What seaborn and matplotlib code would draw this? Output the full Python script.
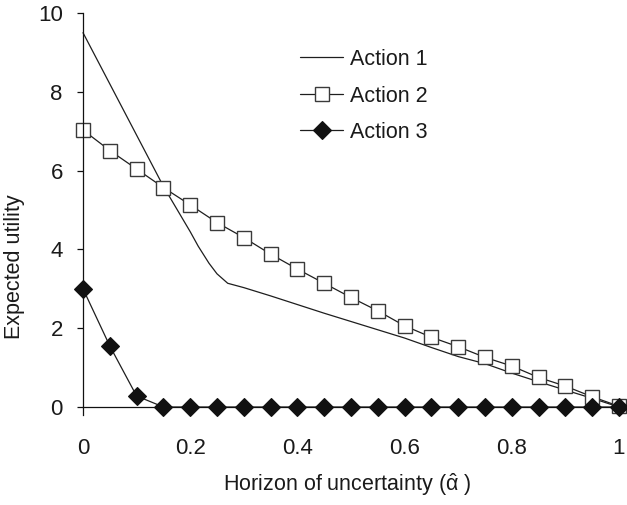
import matplotlib
matplotlib.use("Agg")
import matplotlib.pyplot as plt
import seaborn as sns
import pandas as pd

# Horizon of uncertainty grid for the marked series
alpha = [0.0, 0.05, 0.1, 0.15, 0.2, 0.25, 0.3, 0.35, 0.4, 0.45, 0.5,
         0.55, 0.6, 0.65, 0.7, 0.75, 0.8, 0.85, 0.9, 0.95, 1.0]

# Action 1 is drawn as a plain curve on a slightly denser grid
alpha_a1 = [0.0, 0.05, 0.1, 0.15, 0.2, 0.215, 0.235, 0.25, 0.27, 0.3, 0.35, 0.4,
            0.45, 0.5, 0.55, 0.6, 0.65, 0.7, 0.75, 0.8, 0.85, 0.9, 0.95, 1.0]
action1 = [9.5, 8.2, 6.9, 5.6, 4.45, 4.08, 3.65, 3.38, 3.14, 3.03, 2.82, 2.6,
           2.38, 2.17, 1.96, 1.75, 1.51, 1.28, 1.1, 0.86, 0.64, 0.43, 0.22, 0.0]
action2 = [7.03, 6.51, 6.04, 5.57, 5.13, 4.68, 4.3, 3.88, 3.5, 3.14, 2.78,
           2.44, 2.06, 1.77, 1.53, 1.26, 1.04, 0.75, 0.53, 0.26, 0.02]
action3 = [3.0, 1.55, 0.28, 0.0, 0.0, 0.0, 0.0, 0.0, 0.0, 0.0, 0.0,
           0.0, 0.0, 0.0, 0.0, 0.0, 0.0, 0.0, 0.0, 0.0, 0.0]

series_labels = ["Action 1", "Action 2", "Action 3"]
y_ticks = [0, 2, 4, 6, 8, 10]
x_ticks = [0, 0.2, 0.4, 0.6, 0.8, 1.0]
x_tick_labels = ["0", "0.2", "0.4", "0.6", "0.8", "1"]

sns.set_theme(style="white")
plt.rcParams["font.family"] = ["Liberation Sans", "DejaVu Sans"]
plt.rcParams["mathtext.fontset"] = "custom"
plt.rcParams["mathtext.rm"] = "Liberation Sans"
plt.rcParams["mathtext.it"] = "Liberation Sans:italic"

fig = plt.figure(figsize=(6.27, 5.05), dpi=100)
ax = fig.add_axes([83 / 627, 1 - 407 / 505, 536 / 627, 394 / 505])

df1 = pd.DataFrame({"alpha": alpha_a1, "utility": action1})
df2 = pd.DataFrame({"alpha": alpha, "utility": action2})
df3 = pd.DataFrame({"alpha": alpha, "utility": action3})

line_col = "#1e1e1e"
sns.lineplot(data=df1, x="alpha", y="utility", ax=ax, color=line_col,
             linewidth=0.9, label=series_labels[0], clip_on=False)
sns.lineplot(data=df2, x="alpha", y="utility", ax=ax, color=line_col,
             linewidth=0.9, marker="s", markersize=10, markerfacecolor="white",
             markeredgecolor="#3a3a3a", markeredgewidth=1.0,
             label=series_labels[1], clip_on=False)
sns.lineplot(data=df3, x="alpha", y="utility", ax=ax, color=line_col,
             linewidth=0.9, marker="D", markersize=9.5, markerfacecolor="#111111",
             markeredgecolor="#111111", markeredgewidth=0.8,
             label=series_labels[2], clip_on=False)

ax.set_xlim(0, 1)
ax.set_ylim(0, 10)
ax.set_yticks(y_ticks)
ax.set_yticklabels([str(t) for t in y_ticks])
ax.set_xticks(x_ticks)
ax.set_xticklabels(x_tick_labels)

for side in ["top", "right"]:
    ax.spines[side].set_visible(False)
for side in ["left", "bottom"]:
    ax.spines[side].set_color("#111111")
    ax.spines[side].set_linewidth(0.9)
ax.spines["left"].set_bounds(-0.2, 10)

ax.tick_params(axis="y", which="major", direction="out", length=4.5, width=0.9,
               color="#111111", pad=10, labelsize=16, labelcolor="#1a1a1a", left=True)
ax.tick_params(axis="x", which="major", length=0, pad=22, labelsize=16,
               labelcolor="#1a1a1a")

ax.set_xlabel(r"Horizon of uncertainty ($\hat{\mathrm{\alpha}}$ )", fontsize=15.5,
              color="#1a1a1a")
ax.set_ylabel("Expected utility", fontsize=15.5, color="#1a1a1a")
ax.xaxis.set_label_coords(0.493, -0.163)
ax.yaxis.set_label_coords(-0.108, 0.355)

leg = ax.legend(loc="upper left", bbox_to_anchor=(300 / 627, 1 - 49 / 505),
                bbox_transform=fig.transFigure, frameon=False, fontsize=15.5,
                handlelength=2.0, handletextpad=0.3, labelspacing=0.72,
                borderaxespad=0, borderpad=0)
for txt in leg.get_texts():
    txt.set_color("#1a1a1a")

fig.savefig("out.png", dpi=100)
